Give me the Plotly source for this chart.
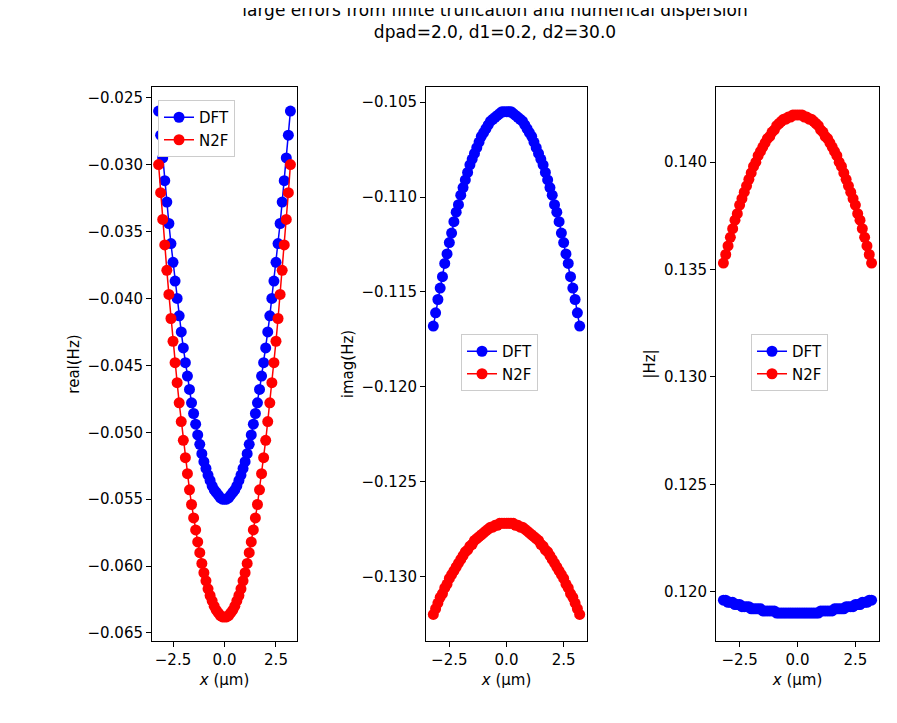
import plotly.graph_objects as go

# values read at x = 0.0, 0.1, ... 3.2 (curves are symmetric in x)
x_half = [0.0, 0.1, 0.2, 0.3, 0.4, 0.5, 0.6, 0.7, 0.8, 0.9, 1.0, 1.1, 1.2, 1.3, 1.4, 1.5, 1.6,
          1.7, 1.8, 1.9, 2.0, 2.1, 2.2, 2.3, 2.4, 2.5, 2.6, 2.7, 2.8, 2.9, 3.0, 3.1, 3.2]
real_dft = [-0.0550, -0.0550, -0.0549, -0.0547, -0.0545, -0.0543, -0.0540, -0.0536, -0.0532,
            -0.0527, -0.0522, -0.0516, -0.0509, -0.0502, -0.0494, -0.0486, -0.0478, -0.0468,
            -0.0458, -0.0448, -0.0437, -0.0425, -0.0413, -0.0400, -0.0387, -0.0373, -0.0359,
            -0.0344, -0.0328, -0.0312, -0.0295, -0.0278, -0.0260]
real_n2f = [-0.0638, -0.0638, -0.0637, -0.0635, -0.0633, -0.0630, -0.0626, -0.0622, -0.0617,
            -0.0611, -0.0605, -0.0598, -0.0590, -0.0582, -0.0573, -0.0564, -0.0554, -0.0543,
            -0.0531, -0.0519, -0.0506, -0.0492, -0.0478, -0.0463, -0.0448, -0.0432, -0.0415,
            -0.0397, -0.0379, -0.0360, -0.0341, -0.0321, -0.0300]
imag_dft = [-0.1055, -0.1055, -0.1055, -0.1056, -0.1057, -0.1058, -0.1059, -0.1060, -0.1062,
            -0.1064, -0.1066, -0.1068, -0.1071, -0.1074, -0.1077, -0.1080, -0.1083, -0.1087,
            -0.1091, -0.1095, -0.1099, -0.1104, -0.1108, -0.1113, -0.1119, -0.1124, -0.1130,
            -0.1135, -0.1142, -0.1148, -0.1154, -0.1161, -0.1168]
imag_n2f = [-0.1272, -0.1272, -0.1272, -0.1272, -0.1273, -0.1273, -0.1274, -0.1274, -0.1275,
            -0.1276, -0.1277, -0.1278, -0.1279, -0.1280, -0.1281, -0.1283, -0.1284, -0.1286,
            -0.1287, -0.1289, -0.1291, -0.1293, -0.1295, -0.1297, -0.1299, -0.1301, -0.1304,
            -0.1306, -0.1309, -0.1311, -0.1314, -0.1317, -0.1320]
abs_dft = [0.1190, 0.1190, 0.1190, 0.1190, 0.1190, 0.1190, 0.1190, 0.1190, 0.1190,
           0.1190, 0.1191, 0.1191, 0.1191, 0.1191, 0.1191, 0.1191, 0.1192, 0.1192,
           0.1192, 0.1192, 0.1192, 0.1193, 0.1193, 0.1193, 0.1193, 0.1194, 0.1194,
           0.1194, 0.1195, 0.1195, 0.1195, 0.1196, 0.1196]
abs_n2f = [0.1422, 0.1422, 0.1422, 0.1421, 0.1421, 0.1420, 0.1420, 0.1419, 0.1418,
           0.1417, 0.1415, 0.1414, 0.1412, 0.1411, 0.1409, 0.1407, 0.1405, 0.1403,
           0.1400, 0.1398, 0.1395, 0.1392, 0.1389, 0.1386, 0.1383, 0.1380, 0.1376,
           0.1373, 0.1369, 0.1365, 0.1361, 0.1357, 0.1353]

def full(v, neg=False):
    left = [-a for a in v[:0:-1]] if neg else v[:0:-1]
    return left + v

x = full(x_half, neg=True)
W, H = 897, 723
OFF = 8  # page offset in the screenshot
panels = [
    (real_dft, real_n2f, "real(Hz)", [-0.0656, -0.0242], [-0.065, -0.025], (152, 297), "legend"),
    (imag_dft, imag_n2f, "imag(Hz)", [-0.1334, -0.1042], [-0.130, -0.105], (426, 587), "legend2"),
    (abs_dft, abs_n2f, "|Hz|", [0.1177, 0.1435], [0.120, 0.140], (716, 879), "legend3"),
]
legend_px = [(158, 100), (461, 334), (751, 334)]

def fx(px):
    return (px - OFF) / W

def fy(py):
    return (H - (py - OFF)) / H

fig = go.Figure()
layout = {}
for i, (d, n, ylab, yr, ylim, (px0, px1), leg) in enumerate(panels):
    s = "" if i == 0 else str(i + 1)
    for vals, name, col in [(d, "DFT", "blue"), (n, "N2F", "red")]:
        fig.add_trace(go.Scatter(x=x, y=full(vals), mode="lines+markers", name=name,
                                 line=dict(color=col, width=1.5),
                                 marker=dict(color=col, size=11),
                                 xaxis="x" + s, yaxis="y" + s, legend=leg))
    ax = dict(showline=True, mirror=True, linecolor="black", ticks="outside",
              tickcolor="black", showgrid=False, zeroline=False,
              tickfont=dict(size=15, color="black"))
    layout["xaxis" + s] = dict(ax, domain=[fx(px0), fx(px1)], range=[-3.52, 3.52],
                               tickvals=[-2.5, 0, 2.5], tickformat=".1f",
                               anchor="y" + s,
                               title=dict(text="<i>x</i> (µm)", font=dict(size=15), standoff=6))
    step = 0.005
    tv = [round(ylim[0] + k * step, 3) for k in range(int(round((ylim[1] - ylim[0]) / step)) + 1)]
    layout["yaxis" + s] = dict(ax, domain=[fy(641), fy(87)], range=yr,
                               tickvals=tv, tickformat=".3f", anchor="x" + s,
                               title=dict(text=ylab, font=dict(size=15), standoff=4))
    lx, ly = legend_px[i]
    layout[leg] = dict(x=fx(lx), y=fy(ly), xanchor="left", yanchor="top",
                       bordercolor="#cccccc", borderwidth=1,
                       bgcolor="white", font=dict(size=15, color="black"))

fig.update_layout(**layout)
fig.update_layout(
    width=W, height=H, margin=dict(l=0, r=0, t=0, b=0),
    paper_bgcolor="white", plot_bgcolor="white",
    font=dict(family="DejaVu Sans", color="black"),
    title=dict(text="large errors from finite truncation and numerical dispersion<br>dpad=2.0, d1=0.2, d2=30.0",
               x=fx(495), xanchor="center", y=fy(16), yanchor="top",
               font=dict(size=17)),
)
fig.write_html("out.html")
